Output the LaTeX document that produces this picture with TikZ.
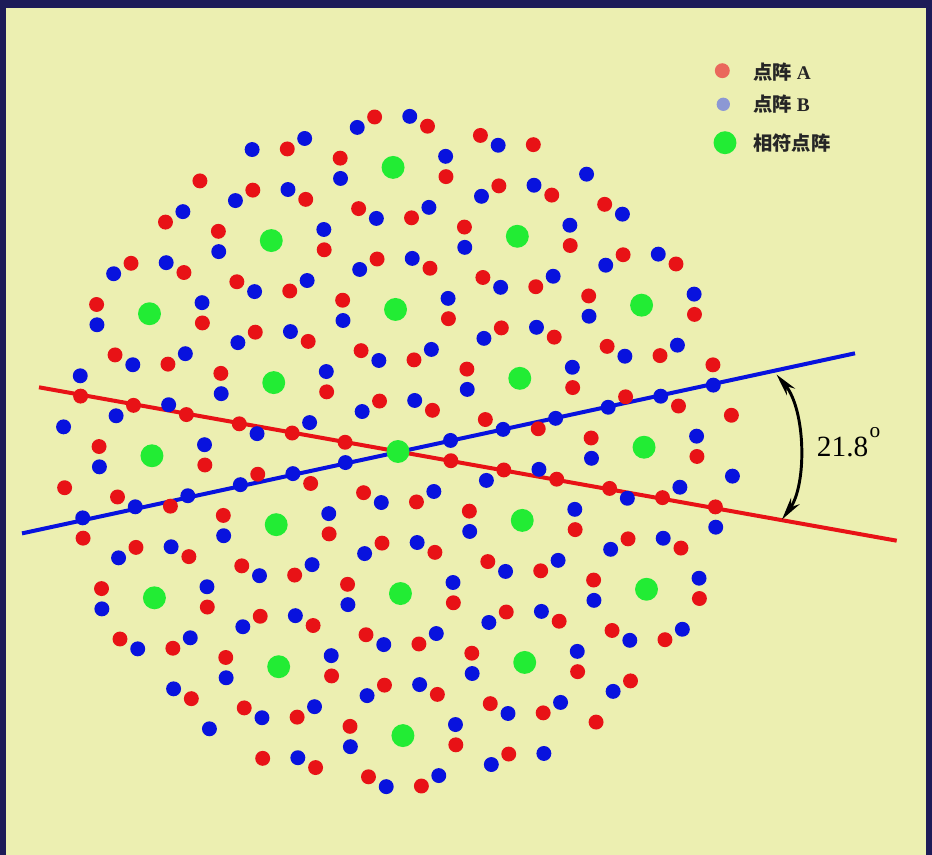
\documentclass[tikz,border=0pt]{standalone}
\usepackage{fontspec}
\setmainfont{Liberation Serif}
\newfontfamily\cjk{Noto Sans CJK SC}
\usetikzlibrary{arrows.meta}
\definecolor{bg}{RGB}{236,239,177}
\definecolor{frame}{RGB}{29,27,88}
\definecolor{ptred}{RGB}{232,18,22}
\definecolor{ptblue}{RGB}{8,18,222}
\definecolor{ptgreen}{RGB}{34,236,52}
\definecolor{legred}{RGB}{234,104,92}
\definecolor{legblue}{RGB}{140,152,212}
\begin{document}
\begin{tikzpicture}[x=0.75pt,y=-0.75pt,
  dotA/.style={fill=ptred},
  dotB/.style={fill=ptblue},
  dotC/.style={fill=ptgreen},
  lineA/.style={draw=ptred,line width=3pt},
  lineB/.style={draw=ptblue,line width=3pt},
  legtext/.style={anchor=west,inner sep=0pt,text=black!85,font=\fontsize{14.5}{16}\selectfont\bfseries}]
\fill[frame] (0,0) rectangle (932,855);
\fill[bg] (6,8) rectangle (926,855);
\useasboundingbox (0,0) rectangle (932,855);
\coordinate (C) at (398,451.5);
% lines
\coordinate (RA) at (39,387.3);
\coordinate (RB) at (896.7,540.7);
\coordinate (BA) at (22,533.4);
\coordinate (BB) at (855,353.3);
\draw[lineA] (RA) -- (RB);
\draw[lineB] (BA) -- (BB);
% lattice A
\foreach \i in {-8,...,8}{
  \foreach \j in {-8,...,8}{
    \pgfmathsetmacro{\px}{53.7*(\i*cos(9.9)+\j*cos(-50.1))}
    \pgfmathsetmacro{\py}{53.7*(\i*sin(9.9)+\j*sin(-50.1))}
    \pgfmathsetmacro{\rr}{veclen(\px,\py)}
    \ifdim \rr pt < 341pt
      \fill[dotA] ([shift={(\px,\py)}]C) circle[radius=5.6pt];
    \fi
  }}
% lattice B
\foreach \i in {-8,...,8}{
  \foreach \j in {-8,...,8}{
    \pgfmathsetmacro{\px}{53.7*(\i*cos(-11.887)+\j*cos(-71.887))}
    \pgfmathsetmacro{\py}{53.7*(\i*sin(-11.887)+\j*sin(-71.887))}
    \pgfmathsetmacro{\rr}{veclen(\px,\py)}
    \ifdim \rr pt < 341pt
      \fill[dotB] ([shift={(\px,\py)}]C) circle[radius=5.6pt];
    \fi
  }}
% coincidence sites
\foreach \i in {-8,...,8}{
  \foreach \j in {-8,...,8}{
    \pgfmathsetmacro{\px}{53.7*(\i*cos(9.9)+\j*cos(-50.1))}
    \pgfmathsetmacro{\py}{53.7*(\i*sin(9.9)+\j*sin(-50.1))}
    \pgfmathsetmacro{\rr}{veclen(\px,\py)}
    \pgfmathtruncatemacro{\md}{mod(\j-2*\i+70,7)}
    \ifnum\md=0
      \ifdim \rr pt < 341pt
        \fill[dotC] ([shift={(\px,\py)}]C) circle[radius=8.6pt];
      \fi
    \fi
  }}
% angle
\coordinate (T) at (776.5,374.5);
\coordinate (B) at (782,519.5);
\draw[line width=2.2pt,{Stealth[length=17pt,width=8pt]}-{Stealth[length=17pt,width=8pt]}]
  (T) .. controls (806,410) and (807,485) .. (B);
\node[anchor=base west,inner sep=0pt,font=\fontsize{22}{24}\selectfont] (ang) at (816.7,456.7)
  {21.8\kern1pt{\fontsize{16}{16}\selectfont\raisebox{14.5pt}{o}}};
% legend
\fill[legred] (722.3,70.7) circle[radius=5.6pt];
\fill[legblue] (723.3,104.3) circle[radius=5pt];
\fill[ptgreen] (725,142.7) circle[radius=8.6pt];
\node[legtext] (la) at (753,72) {{\cjk 点阵} A};
\node[legtext] (lb) at (753,104.5) {{\cjk 点阵} B};
\node[legtext] (lc) at (753,143) {{\cjk 相符点阵}};
\end{tikzpicture}
\end{document}
